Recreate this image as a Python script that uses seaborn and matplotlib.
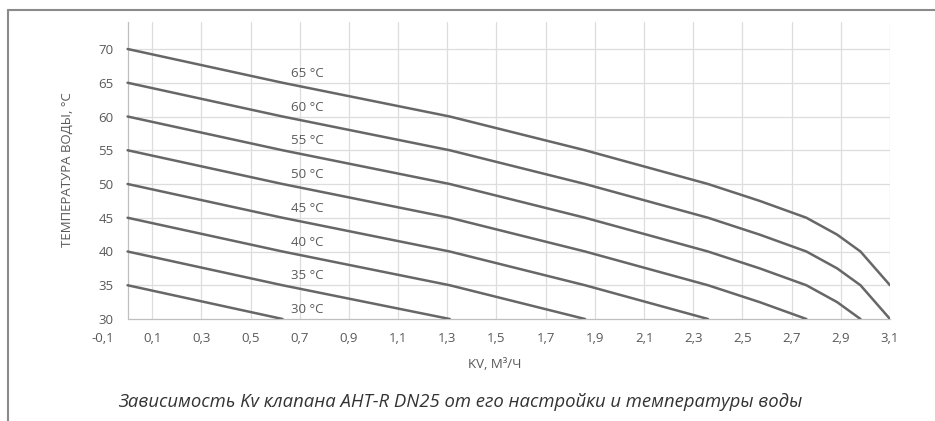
import matplotlib
matplotlib.use("Agg")
import matplotlib.pyplot as plt
from matplotlib.lines import Line2D
from matplotlib.ticker import MultipleLocator
import seaborn as sns
import pandas as pd

# ---- data (Kv, m3/h  vs water temperature, C) ----
settings = [30, 35, 40, 45, 50, 55, 60, 65]

kv_30 = [0, 0.63]
t_30 = [35, 30]
kv_35 = [0, 0.63, 1.31]
t_35 = [40, 35, 30]
kv_40 = [0, 0.63, 1.31, 1.86]
t_40 = [45, 40, 35, 30]
kv_45 = [0, 0.63, 1.31, 1.86, 2.36]
t_45 = [50, 45, 40, 35, 30]
kv_50 = [0, 0.63, 1.31, 1.86, 2.36, 2.57, 2.76]
t_50 = [55, 50, 45, 40, 35, 32.5, 30]
kv_55 = [0, 0.63, 1.31, 1.86, 2.36, 2.57, 2.76, 2.885, 2.98]
t_55 = [60, 55, 50, 45, 40, 37.5, 35, 32.5, 30]
kv_60 = [0, 0.63, 1.31, 1.86, 2.36, 2.57, 2.76, 2.885, 2.98, 3.04, 3.1]
t_60 = [65, 60, 55, 50, 45, 42.5, 40, 37.5, 35, 32.5, 30]
kv_65 = [0, 0.63, 1.31, 1.86, 2.36, 2.57, 2.76, 2.885, 2.98, 3.04, 3.1]
t_65 = [70, 65, 60, 55, 50, 47.5, 45, 42.5, 40, 37.5, 35]

kv_series = [kv_30, kv_35, kv_40, kv_45, kv_50, kv_55, kv_60, kv_65]
t_series = [t_30, t_35, t_40, t_45, t_50, t_55, t_60, t_65]

series_labels = ["30 °C", "35 °C", "40 °C", "45 °C", "50 °C", "55 °C", "60 °C", "65 °C"]
x_ticks = [-0.1, 0.1, 0.3, 0.5, 0.7, 0.9, 1.1, 1.3, 1.5, 1.7, 1.9, 2.1, 2.3, 2.5, 2.7, 2.9, 3.1]
x_tick_labels = ["-0,1", "0,1", "0,3", "0,5", "0,7", "0,9", "1,1", "1,3", "1,5", "1,7",
                 "1,9", "2,1", "2,3", "2,5", "2,7", "2,9", "3,1"]
y_ticks = [30, 35, 40, 45, 50, 55, 60, 65, 70]

x_title = "KV, М³/Ч"
y_title = "ТЕМПЕРАТУРА ВОДЫ, °С"
caption = "Зависимость Kv клапана AHT-R DN25 от его настройки и температуры воды"

rows = []
for s, kvs, ts in zip(settings, kv_series, t_series):
    for k, t in zip(kvs, ts):
        rows.append({"setting": s, "kv": k, "temp": t})
df = pd.DataFrame(rows)

# ---- styling ----
sns.set_theme(style="white")
plt.rcParams["font.family"] = ["Open Sans", "DejaVu Sans"]

W, H = 935, 421
fig = plt.figure(figsize=(W / 100, H / 100), dpi=100)
ax = fig.add_axes([103 / W, 1 - 319 / H, (890 - 103) / W, (319 - 22) / H])
ax.set_facecolor("none")

line_col = "#676767"
grid_col = "#dddddd"
axis_col = "#bfbfbf"
text_col = "#595959"

sns.lineplot(data=df, x="kv", y="temp", hue="setting", units="setting",
             estimator=None, sort=False,
             palette=[line_col] * len(settings), linewidth=1.8,
             legend=False, ax=ax, zorder=3)

ax.set_xlim(-0.1, 3.1)
ax.set_ylim(30, 74)

# gridlines
for xv in x_ticks[1:]:
    ax.axvline(xv, color=grid_col, lw=0.9, zorder=1)
ax.hlines(y_ticks[1:], 0, 3.1, color=grid_col, lw=0.9, zorder=1)

# spines: y axis crosses at x = 0
for sp in ["top", "right"]:
    ax.spines[sp].set_visible(False)
ax.spines["left"].set_position(("data", 0))
ax.spines["left"].set_color(axis_col)
ax.spines["left"].set_linewidth(0.9)
ax.spines["bottom"].set_color(axis_col)
ax.spines["bottom"].set_linewidth(0.9)
ax.spines["bottom"].set_bounds(0, 3.1)

ax.set_xticks(x_ticks)
ax.set_xticklabels(x_tick_labels)
ax.set_yticks(y_ticks)
ax.set_yticklabels([str(v) for v in y_ticks])
ax.yaxis.set_minor_locator(MultipleLocator(1))
ax.tick_params(axis="x", length=0, pad=9, labelsize=9.5, labelcolor=text_col)
ax.tick_params(axis="y", which="major", direction="out", length=3.5, width=0.8,
               color=axis_col, pad=6.5, labelsize=9.5, labelcolor=text_col)
ax.tick_params(axis="y", which="minor", direction="out", length=2.2, width=0.7,
               color=axis_col)
ax.set_xlabel("")
ax.set_ylabel("")

# series labels
for s, lab in zip(settings, series_labels):
    ax.text(0.73, s + 1.4, lab, ha="center", va="center", fontsize=9.5,
            color=text_col, zorder=4)

# axis titles
fig.text(495 / W, 1 - 365 / H, x_title, ha="center", va="center",
         fontsize=9.5, color=text_col)
fig.text(67 / W, 1 - 170 / H, y_title, ha="center", va="center", rotation=90,
         fontsize=9.5, color=text_col)

# caption
fig.text(118 / W, 1 - 402 / H, caption, ha="left", va="center",
         fontsize=13.3, style="italic", color="#333333")

# outer frame (top and left edges)
frame_col = "#8a8a8a"
fig.add_artist(Line2D([8 / W, 1.0], [1 - 10 / H, 1 - 10 / H], color=frame_col,
                      lw=1.5, transform=fig.transFigure))
fig.add_artist(Line2D([8 / W, 8 / W], [0.0, 1 - 10 / H], color=frame_col,
                      lw=1.5, transform=fig.transFigure))

fig.savefig("out.png", dpi=100, facecolor="white")
